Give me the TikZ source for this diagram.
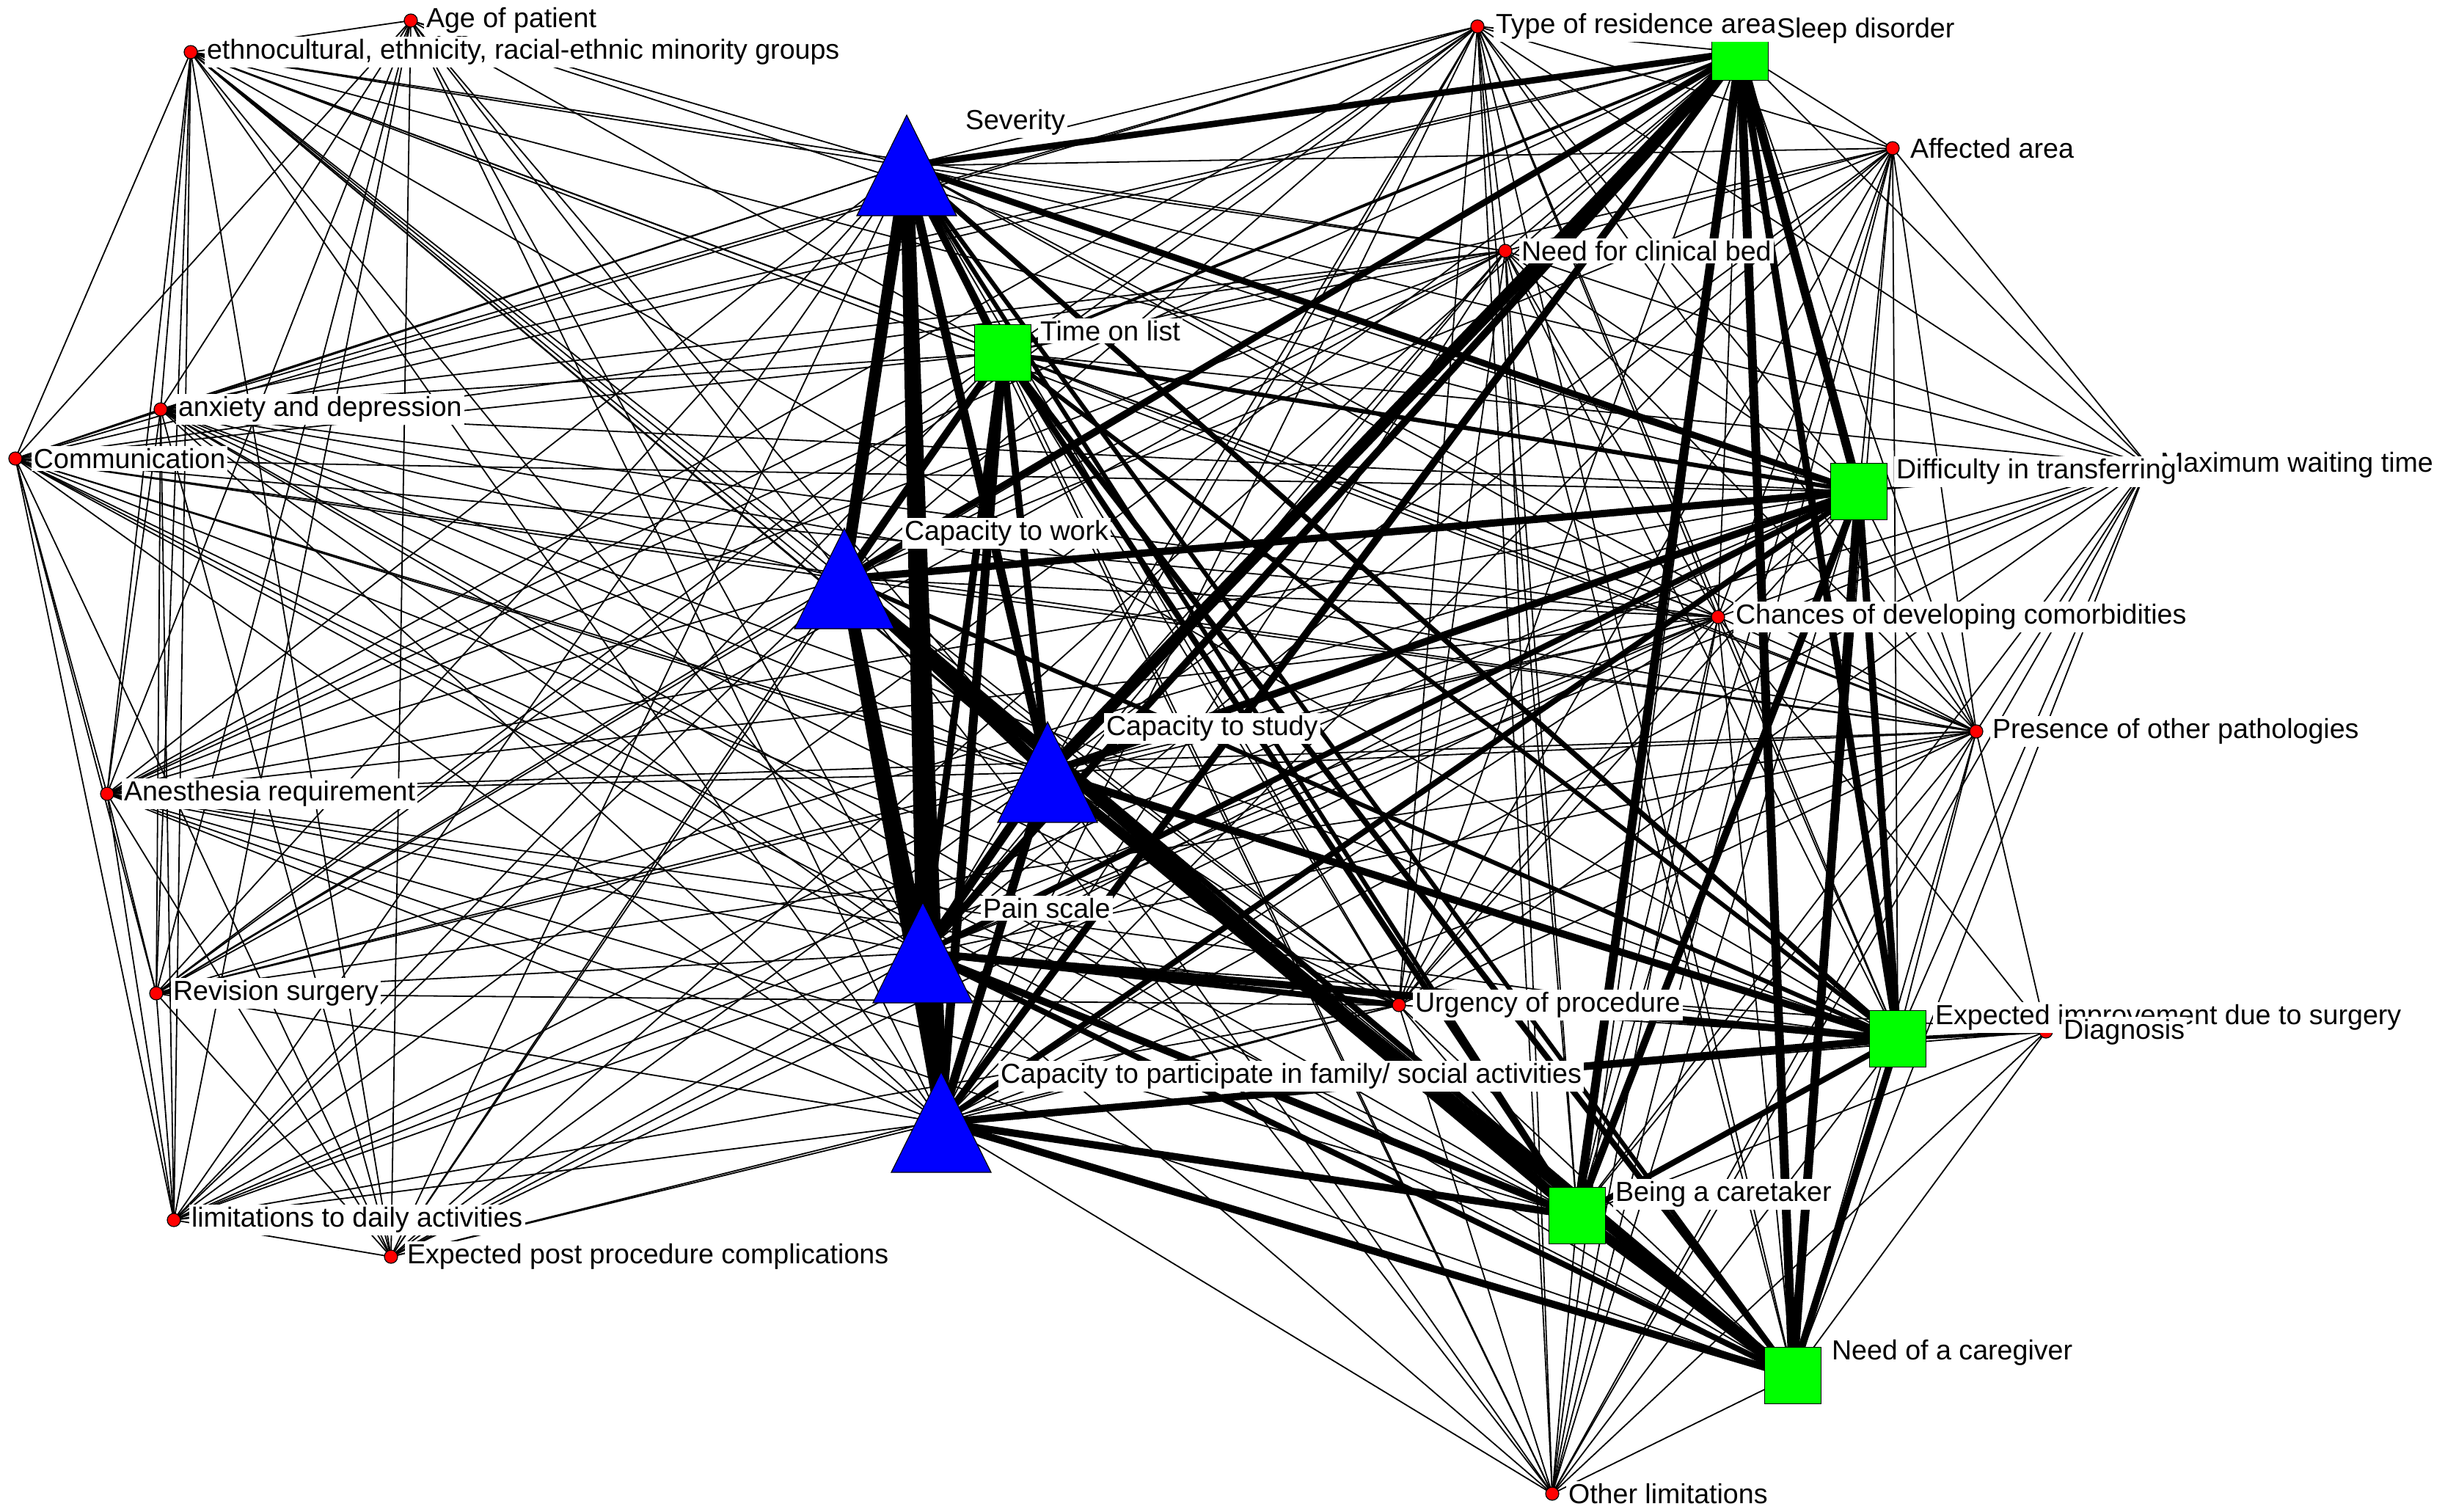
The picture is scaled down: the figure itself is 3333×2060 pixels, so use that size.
\documentclass[tikz,border=0pt]{standalone}
\usepackage{fontspec}
\setmainfont{Liberation Sans}
\pgfdeclarelayer{edges}
\pgfsetlayers{edges,main}
\begin{document}
\begin{tikzpicture}[x=0.25pt,y=-0.25pt,
  te/.style={line width=0.45pt},
  lbl/.style={fill=white,inner sep=0.8pt,anchor=west,font=\fontsize{9.4}{11}\selectfont},
  dot/.style={circle,fill=red,draw=black,line width=0.3pt,inner sep=0pt,minimum size=4.5pt},
  sq/.style={rectangle,fill=green,draw=black,line width=0.4pt,inner sep=0pt,minimum size=19.25pt},
  tri/.style={fill=blue,draw=black,line width=0.3pt}]
\useasboundingbox (0,0) rectangle (3333,2060);
% red dots
\node[dot] (age) at (560,28) {};
\node[dot] (eth) at (260,71) {};
\node[dot] (anx) at (219,558) {};
\node[dot] (com) at (21,625) {};
\node[dot] (anes) at (146,1082) {};
\node[dot] (rev) at (213,1354) {};
\node[dot] (lim) at (237,1663) {};
\node[dot] (epc) at (533,1713) {};
\node[dot] (tra) at (2014,36) {};
\node[dot] (aff) at (2580,202) {};
\node[dot] (bed) at (2052,342) {};
\node[dot] (maxw) at (2928,634) {};
\node[dot] (chan) at (2342,841) {};
\node[dot] (pres) at (2694,997) {};
\node[dot] (urg) at (1907,1370) {};
\node[dot] (diag) at (2789,1406) {};
\node[dot] (oth) at (2116,2036) {};
% squares
\node[sq] (tol) at (1367,481) {};
\node[sq] (sleep) at (2372,71) {};
\node[sq] (diff) at (2534,670) {};
\node[sq] (expi) at (2587,1416) {};
\node[sq] (care) at (2150,1657) {};
\node[sq] (need) at (2444,1875) {};
% triangles
\coordinate (sev) at (1236,226);
\coordinate (work) at (1151,789);
\coordinate (study) at (1428,1053);
\coordinate (pain) at (1258,1299);
\coordinate (part) at (1283,1530);
\foreach \t in {sev,work,study,pain,part}
  \filldraw[tri] ([shift={(0,-69)}]\t) -- ++(68,137) -- ++(-136,0) -- cycle;
\begin{pgfonlayer}{edges}
\fill[white] (0,0) rectangle (3333,2060);
% L-L
\foreach \a [count=\i] in {age,eth,anx,com,anes,rev,lim,epc}
  \foreach \b [count=\j] in {age,eth,anx,com,anes,rev,lim,epc}
    {\ifnum\j>\i \draw[te] (\a.center) -- (\b.center);\fi}
% R-R
\foreach \a [count=\i] in {tra,bed,aff,maxw,chan,pres,urg,oth}
  \foreach \b [count=\j] in {tra,bed,aff,maxw,chan,pres,urg,oth}
    {\ifnum\j>\i \draw[te] (\a.center) -- (\b.center);\fi}
% L-B
\foreach \b in {sev,work,study,pain,part,tol,diff}
  \draw[te] (age.center) -- (\b.center);
\foreach \b in {sev,work,study,pain,part,tol,diff,expi,care,need}
  \draw[te] (eth.center) -- (\b.center);
\foreach \a in {anx,com,anes}
  \foreach \b in {sev,work,study,pain,part,tol,sleep,diff,expi,care,need}
    \draw[te] (\a.center) -- (\b.center);
\foreach \a in {rev,lim,epc}
  \foreach \b in {sev,work,study,pain,part,tol,sleep,diff}
    \draw[te] (\a.center) -- (\b.center);
% L-R (selected)
\foreach \b in {bed,chan,pres,urg}
  \draw[te] (eth.center) -- (\b.center);
\foreach \a in {anx,com,anes,rev}
  \foreach \b in {tra,bed,chan,pres,urg}
    \draw[te] (\a.center) -- (\b.center);
\foreach \a in {lim,epc}
  \foreach \b in {urg,chan}
    \draw[te] (\a.center) -- (\b.center);
% R-B
\foreach \a in {tra,bed,aff,maxw,chan,pres,urg,oth}
  \foreach \b in {sev,work,study,pain,part,tol,sleep,diff,expi,care,need}
    \draw[te] (\a.center) -- (\b.center);
% diagnosis
\foreach \b in {need,care,part,pain,oth,pres,chan}
  \draw[te] (diag.center) -- (\b.center);
% weighted edges among main criteria
\foreach \a/\b/\w in {
  sev/work/4, sev/pain/4.5, sev/part/4.5, sev/study/3, sev/tol/2.5, sev/sleep/2.2,
  sev/diff/2.2, sev/expi/1.8, sev/care/1.5, sev/need/1.5,
  work/pain/4, work/part/3.5, work/study/4, work/tol/2.5, work/sleep/2.2, work/diff/2.5,
  work/expi/1.5, work/care/3.5, work/need/2,
  study/pain/3, study/part/3, study/tol/2.5, study/sleep/4, study/diff/2.5, study/expi/2.5,
  study/care/3, study/need/3,
  pain/part/4.5, pain/tol/2.5, pain/sleep/2.5, pain/diff/2, pain/expi/2.5, pain/care/2.5, pain/need/2,
  part/tol/3, part/sleep/2.5, part/diff/2, part/expi/2.5, part/care/2.5, part/need/2.5,
  tol/sleep/1, tol/diff/1.5, tol/expi/1.5, tol/care/2, tol/need/2,
  sleep/diff/3, sleep/expi/2.5, sleep/care/3, sleep/need/3,
  diff/expi/2.5, diff/care/2.5, diff/need/3,
  expi/care/2, expi/need/2.5, care/need/3.5,
  pain/urg/2, expi/diag/1.2}
  \draw[line width=\w pt] (\a.center) -- (\b.center);
\end{pgfonlayer}
% labels
\node[lbl] (ageL) at (577,28) {Age of patient};
\node[lbl] (ethL) at (278,71) {ethnocultural, ethnicity, racial-ethnic minority groups};
\node[lbl] (sevL) at (1312,167) {Severity};
\node[lbl] (tolL) at (1414,451) {Time on list};
\node[lbl] (anxL) at (239,558) {anxiety and depression};
\node[lbl] (comL) at (42,625) {Communication};
\node[lbl] (workL) at (1229,727) {Capacity to work};
\node[lbl] (studyL) at (1504,993) {Capacity to study};
\node[lbl] (anesL) at (165,1082) {Anesthesia requirement};
\node[lbl] (painL) at (1336,1238) {Pain scale};
\node[lbl] (revL) at (232,1354) {Revision surgery};
\node[lbl] (partL) at (1360,1467) {Capacity to participate in family/ social activities};
\node[lbl] (limL) at (257,1663) {limitations to daily activities};
\node[lbl] (epcL) at (551,1713) {Expected post procedure complications};
\node[lbl] (traL) at (2035,36) {Type of residence area};
\node[lbl] (sleepL) at (2418,42) {Sleep disorder};
\node[lbl] (affL) at (2600,202) {Affected area};
\node[lbl] (bedL) at (2070,342) {Need for clinical bed};
\node[lbl] (maxwL) at (2941,634) {Maximum waiting time};
\node[lbl] (diffL) at (2581,643) {Difficulty in transferring};
\node[lbl] (chanL) at (2362,841) {Chances of developing comorbidities};
\node[lbl] (presL) at (2712,997) {Presence of other pathologies};
\node[lbl] (urgL) at (1925,1370) {Urgency of procedure};
\node[lbl] (expiL) at (2634,1387) {Expected improvement due to surgery};
\node[lbl] (diagL) at (2809,1407) {Diagnosis};
\node[lbl] (careL) at (2198,1628) {Being a caretaker};
\node[lbl] (needL) at (2493,1844) {Need of a caregiver};
\node[lbl] (othL) at (2134,2036) {Other limitations};
\end{tikzpicture}
\end{document}
